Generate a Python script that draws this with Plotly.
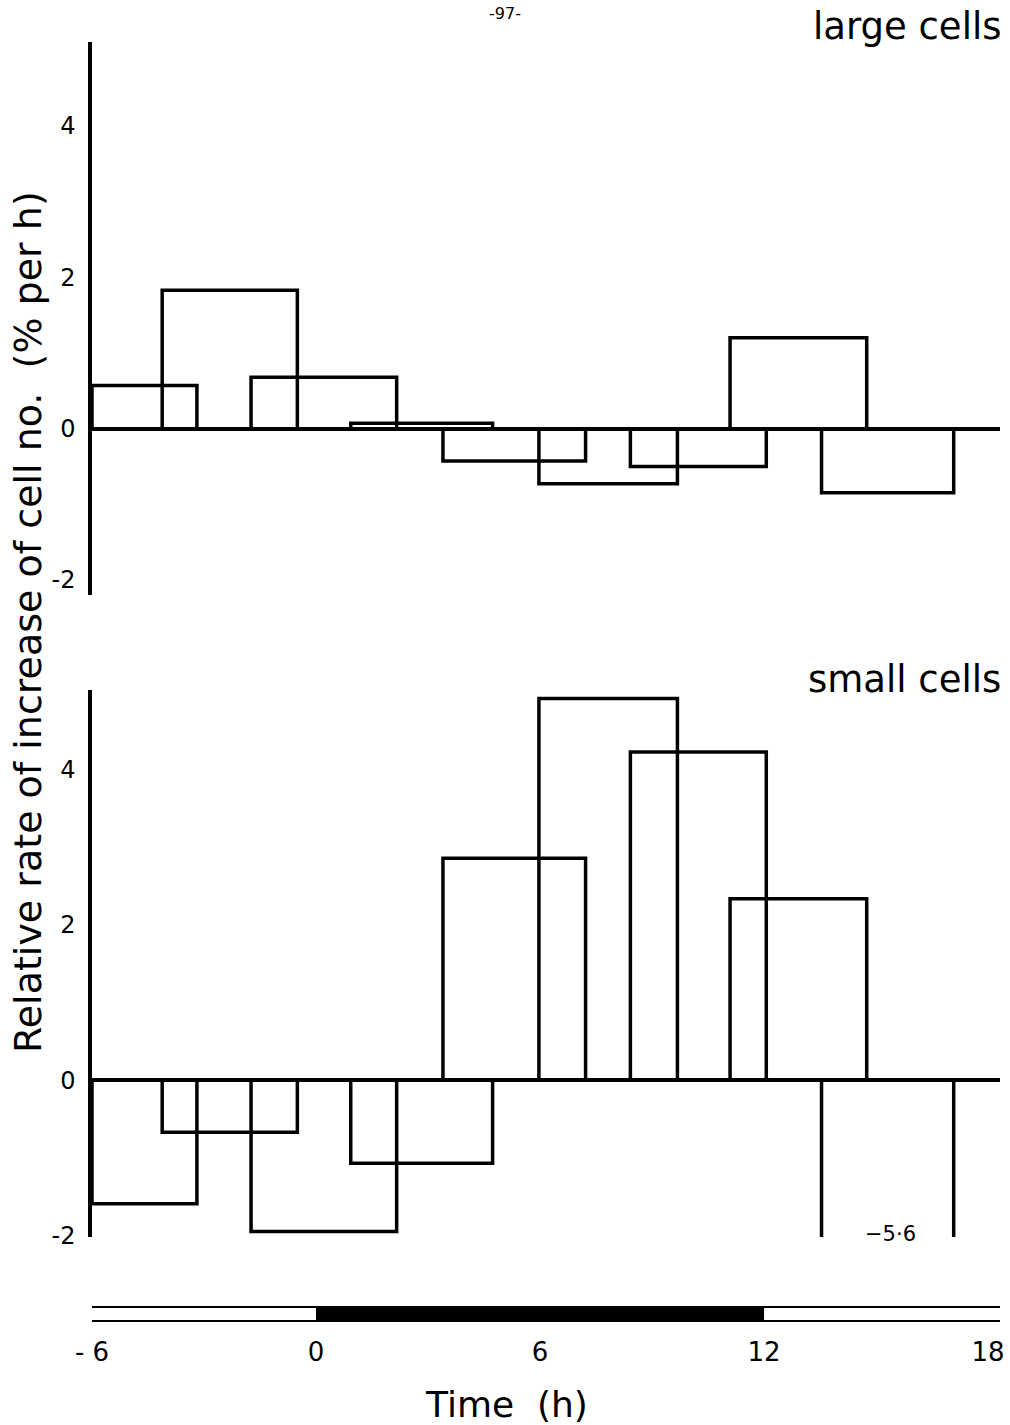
import plotly.graph_objects as go

# Sampling intervals (h, relative to lights-off at 0 h)
interval_start = [-6.0, -4.12, -1.74, 0.93, 3.40, 5.97, 8.42, 11.09, 13.54]
interval_end = [-3.19, -0.50, 2.16, 4.73, 7.22, 9.68, 12.06, 14.75, 17.08]

# Relative rate of increase of cell number (% per h)
large_cells = [0.57, 1.83, 0.68, 0.07, -0.43, -0.73, -0.50, 1.20, -0.85]
small_cells = [-1.59, -0.67, -1.95, -1.07, 2.86, 4.92, 4.23, 2.34, -5.6]

# Dark period of the light/dark cycle (h)
dark_start, dark_end = 0, 12

x_ticks = [-6, 0, 6, 12, 18]
x_tick_text = ["- 6", "0", "6", "12", "18"]
y_ticks = [-2, 0, 2, 4]
y_tick_text = ["-2", "0", "2", "4"]

FONT = "DejaVu Sans"
W, H = 1010, 1425
L, R = 92, 10
X_RANGE = [-6, 18.32]
LW = 3.5


def outline(starts, ends, values):
    xs, ys = [], []
    for s, e, v in zip(starts, ends, values):
        xs += [s, s, e, e, None]
        ys += [0, v, v, 0, None]
    return xs, ys


def ydom(top_px, bottom_px):
    return [1 - bottom_px / H, 1 - top_px / H]


fig = go.Figure()

xs, ys = outline(interval_start, interval_end, large_cells)
fig.add_trace(go.Scatter(x=xs, y=ys, mode="lines", xaxis="x", yaxis="y",
                         line=dict(color="black", width=LW), hoverinfo="skip"))
xs, ys = outline(interval_start, interval_end, small_cells)
fig.add_trace(go.Scatter(x=xs, y=ys, mode="lines", xaxis="x2", yaxis="y2",
                         line=dict(color="black", width=LW), hoverinfo="skip"))
# empty trace so the light/dark strip axis is drawn
fig.add_trace(go.Scatter(x=[None], y=[None], xaxis="x3", yaxis="y3",
                         mode="lines", hoverinfo="skip"))

yax_common = dict(
    tickvals=y_ticks, ticktext=y_tick_text, ticks="", showgrid=False,
    showline=True, linecolor="black", linewidth=LW, zeroline=True,
    zerolinecolor="black", zerolinewidth=LW,
    tickfont=dict(family=FONT, size=24, color="black"),
    ticklabelstandoff=8, fixedrange=True, automargin=False,
)
xax_hidden = dict(range=X_RANGE, showticklabels=False, ticks="",
                  showgrid=False, zeroline=False, showline=False,
                  domain=[0, 1], automargin=False)

fig.update_layout(
    width=W, height=H,
    margin=dict(l=L, r=R, t=0, b=0, autoexpand=False),
    paper_bgcolor="white", plot_bgcolor="white",
    showlegend=False,
    xaxis=dict(**xax_hidden, anchor="y"),
    yaxis=dict(**yax_common, range=[-2.2, 5.11], domain=ydom(42, 595),
               anchor="x"),
    xaxis2=dict(**xax_hidden, anchor="y2"),
    yaxis2=dict(**yax_common, range=[-2.02, 5.03], domain=ydom(690, 1237),
                anchor="x2"),
    xaxis3=dict(range=X_RANGE, domain=[0, 1], anchor="y3",
                tickvals=x_ticks, ticktext=x_tick_text, ticks="",
                showgrid=False, zeroline=False, showline=False,
                ticklabelstandoff=12, automargin=False,
                tickfont=dict(family=FONT, size=26, color="black")),
    yaxis3=dict(range=[0, 1], domain=ydom(1306, 1322), anchor="x3",
                visible=False),
)

# light/dark strip
fig.add_shape(type="rect", xref="x3", yref="y3", x0=dark_start, x1=dark_end,
              y0=0, y1=1, fillcolor="black", line=dict(width=0))
for yv in (0, 1):
    fig.add_shape(type="line", xref="x3", yref="y3", x0=X_RANGE[0] - 0.05,
                  x1=X_RANGE[1], y0=yv, y1=yv,
                  line=dict(color="black", width=4))


def px_x(px):
    return (px - L) / (W - L - R)


def px_y(py):
    return 1 - py / H


annots = [
    dict(text="large cells", x=px_x(1003), y=px_y(27), xanchor="right",
         yanchor="middle", font=dict(size=37)),
    dict(text="small cells", x=px_x(1003), y=px_y(680), xanchor="right",
         yanchor="middle", font=dict(size=37)),
    dict(text="Relative rate of increase of cell no.  (% per h)",
         x=px_x(28), y=px_y(622), textangle=-90, xanchor="center",
         yanchor="middle", font=dict(size=38)),
    dict(text="Time  (h)", x=px_x(506), y=px_y(1404), xanchor="center",
         yanchor="middle", font=dict(size=36)),
    dict(text="\u22125\u00b76", x=px_x(890), y=px_y(1234), xanchor="center",
         yanchor="middle", font=dict(size=21)),
    dict(text="-97-", x=px_x(505), y=px_y(13), xanchor="center",
         yanchor="middle", font=dict(size=16)),
]
for a in annots:
    a["font"].update(family=FONT, color="black")
    fig.add_annotation(xref="paper", yref="paper", showarrow=False, **a)

fig.write_html("out.html")
